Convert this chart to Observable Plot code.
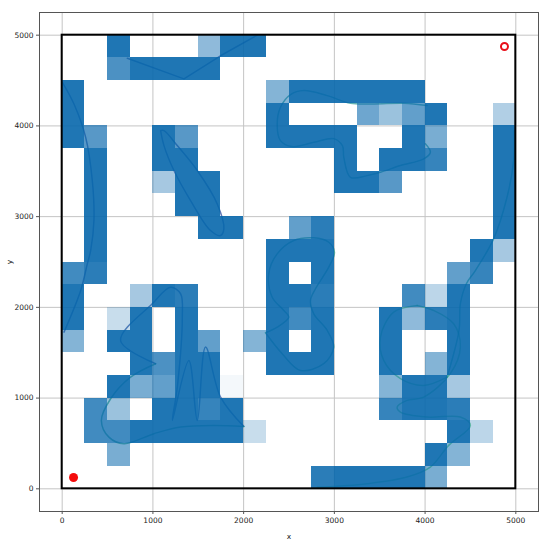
<!DOCTYPE html>
<html>
<head>
<meta charset="utf-8">
<script src="https://cdn.jsdelivr.net/npm/d3@7"></script>
<script src="https://cdn.jsdelivr.net/npm/@observablehq/plot@0.6"></script>
<style>
html,body{margin:0;padding:0;background:#fff}
svg{display:block}
</style>
</head>
<body>
<div id="chart"></div>
<script>
const binSize = 250;
const ticks = [0, 1000, 2000, 3000, 4000, 5000];

// lower edge of each row of bins
const rowY = [4750, 4500, 4250, 4000, 3750, 3500, 3250, 3000, 2750, 2500, 2250, 2000, 1750, 1500, 1250, 1000, 750, 500, 250, 0];
// [left edge of bin, share] per row
const rowBins = [
  [[500,1],[1500,.5],[1750,1],[2000,1]],
  [[500,.8],[750,1],[1000,1],[1250,1],[1500,1]],
  [[0,1],[2250,.55],[2500,1],[2750,1],[3000,1],[3250,1],[3500,1],[3750,1]],
  [[0,1],[2250,1],[3250,.65],[3500,.45],[3750,.7],[4000,1],[4750,.35]],
  [[0,1],[250,.75],[1000,1],[1250,.75],[2250,1],[2500,1],[2750,1],[3000,1],[3750,1],[4000,.6],[4750,1]],
  [[250,1],[1000,1],[1250,1],[3000,1],[3500,1],[3750,1],[4000,.9],[4750,1]],
  [[250,1],[1000,.4],[1250,1],[1500,1],[3000,1],[3250,1],[3500,.75],[4750,1]],
  [[250,1],[1250,1],[1500,1],[4750,1]],
  [[250,1],[1500,1],[1750,1],[2500,.7],[2750,.95],[4750,1]],
  [[250,1],[2250,1],[2500,1],[2750,1],[4500,1],[4750,.4]],
  [[0,.85],[250,.95],[2250,1],[2750,1],[4250,.7],[4500,.9]],
  [[0,1],[750,.4],[1000,1],[1250,.95],[2250,1],[2500,1],[2750,.95],[3750,.85],[4000,.3],[4250,1]],
  [[0,1],[500,.25],[750,1],[1250,1],[2250,1],[2500,.85],[2750,1],[3500,1],[3750,.5],[4000,.95],[4250,1]],
  [[0,.55],[500,1],[750,1],[1250,1],[1500,.7],[2000,.55],[2250,1],[2750,1],[3500,1],[4250,1]],
  [[750,1],[1000,.8],[1250,1],[1500,1],[2250,1],[2500,1],[2750,1],[3500,1],[4000,.55],[4250,1]],
  [[500,1],[750,.6],[1000,.7],[1250,1],[1500,1],[1750,.05],[3500,.55],[3750,1],[4000,1],[4250,.4]],
  [[250,.85],[500,.45],[1000,1],[1250,1],[1500,.9],[1750,1],[3500,.9],[3750,1],[4000,1],[4250,.95]],
  [[250,.85],[500,.85],[750,1],[1000,1],[1250,1],[1500,1],[1750,1],[2000,.25],[4250,1],[4500,.3]],
  [[500,.6],[4000,1],[4250,.55]],
  [[2750,.95],[3000,1],[3250,1],[3500,1],[3750,1],[4000,.6]]
];

const topX = [2150,1745,1342,718];
const topY = [5000,4773,4518,4745];
const arcX = [2,130,259,332,350,314,277,204,20];
const arcY = [4481,4242,3874,3397,2957,2626,2480,2186,1727];
const loopX = [1085,1122,1232,1415,1635,1745,1782,1709,1489,1268,1122,1085];
const loopY = [3948,3783,3508,3177,2847,2792,2865,3140,3508,3783,3948,3948];
const peakX = [1030,644,993,1195,1305,1324,1269,1214,1396,1489,1580,1746,2002];
const peakY = [1379,1635,2040,2222,2150,1892,1121,754,1415,754,1562,1011,688];
const hookX = [2002,1672,1305,1011,681,515,432,534,754,1030];
const hookY = [688,699,681,608,498,570,754,993,1231,1379];
const eightX = [2241,2425,2627,2883,2993,2921,2773,2737,2792,2938,3001,2938,2773,2553,2370,2277,2315,2443,2498,2370,2241];
const eightY = [1720,1489,1305,1379,1562,1746,1929,2076,2205,2443,2608,2718,2766,2737,2590,2370,2112,1966,1892,1782,1720];
const upperX = [4022,3765,3434,3177,2921,2663,2517,2406,2370,2406,2535,2773,2993,3090,3104,3177,3361,3508,3728,3985,4058,4003];
const upperY = [4224,4249,4242,4249,4334,4389,4345,4205,4022,3838,3772,3819,3860,3780,3654,3434,3452,3489,3563,3637,3709,3802];
const tailX = [2810,3361,3800,4058,4260,4499,4389,4022,3728,3692,3802,3985,4278,4389,4315,4095,3912];
const tailY = [16,57,130,240,479,699,791,791,846,901,975,1011,1269,1562,1819,1966,2021];
const ringX = [3912,3654,3508,3544,3728,3985,4242];
const ringY = [2021,1947,1672,1415,1214,1140,1231];
const climbX = [4242,4374,4389,4455,4554,4755,4903,4976,4983];
const climbY = [1231,1746,2040,2260,2406,2755,3214,3618,3948];

const trackNames = ["top","arc","loop","peak","hook","eight","upper","tail","ring","climb"];
const trackColors = ["#0a2f8f","#0a2f8f","#0a2f8f","#0a3f9a","#0f9078","#0f8a80","#0f8a88","#3fc070","#3fc070","#109a88"];
const trackXs = [topX,arcX,loopX,peakX,hookX,eightX,upperX,tailX,ringX,climbX];
const trackYs = [topY,arcY,loopY,peakY,hookY,eightY,upperY,tailY,ringY,climbY];

const startPoint = [{x:125, y:125}];
const endPoint = [{x:4875, y:4875}];
const frameBox = [{x1:0, x2:5000, y1:0, y2:5000}];
const cellAlpha = 0.9;

const cells = rowY.flatMap((y, i) => rowBins[i].map(([x, share]) => ({x1:x, x2:x + binSize, y1:y, y2:y + binSize, alpha:share * cellAlpha})));
const tracks = trackNames.flatMap((name, i) => trackXs[i].map((x, k) => ({name, x, y:trackYs[i][k]})));

const chart = Plot.plot({
  width: 550, height: 540,
  marginLeft: 39, marginRight: 12, marginTop: 12, marginBottom: 29,
  style: {background:"#fff", fontFamily:"'DejaVu Sans', sans-serif"},
  x: {domain:[-250,5250], label:null},
  y: {domain:[-250,5250], label:null},
  color: {type:"ordinal", domain:trackNames, range:trackColors},
  opacity: {type:"identity"},
  marks: [
    Plot.gridX(ticks, {stroke:"#c4c4c4", strokeOpacity:1, strokeWidth:1}),
    Plot.gridY(ticks, {stroke:"#c4c4c4", strokeOpacity:1, strokeWidth:1}),
    Plot.line(tracks.filter(d => d.name === "top"), {x:"x", y:"y", z:"name", stroke:"name", strokeWidth:1.5, strokeOpacity:0.65, curve:"linear"}),
    Plot.line(tracks.filter(d => d.name !== "top"), {x:"x", y:"y", z:"name", stroke:"name", strokeWidth:1.5, strokeOpacity:0.65, curve:"catmull-rom"}),
    Plot.rect(cells, {x1:"x1", x2:"x2", y1:"y1", y2:"y2", fill:"#0767ac", fillOpacity:"alpha", inset:0, shapeRendering:"crispEdges"}),
    Plot.frame({stroke:"#555", strokeWidth:1}),
    Plot.rect(frameBox, {x1:"x1", x2:"x2", y1:"y1", y2:"y2", fill:"none", stroke:"#000", strokeWidth:2}),
    Plot.dot(startPoint, {x:"x", y:"y", r:4.5, fill:"#f40c0c", stroke:"none"}),
    Plot.dot(endPoint, {x:"x", y:"y", r:3.5, fill:"none", stroke:"#e8101a", strokeWidth:2}),
    Plot.axisX(ticks, {tickSize:3, tickPadding:3, fontSize:7.5, stroke:"#555", fill:"#222", tickFormat:"d", label:"x", labelAnchor:"center", labelArrow:"none", labelOffset:27}),
    Plot.axisY(ticks, {tickSize:3, tickPadding:3, fontSize:7.5, stroke:"#555", fill:"#222", tickFormat:"d", label:"y", labelAnchor:"center", labelArrow:"none", labelOffset:33})
  ]
});
document.getElementById("chart").append(chart);
</script>
</body>
</html>
